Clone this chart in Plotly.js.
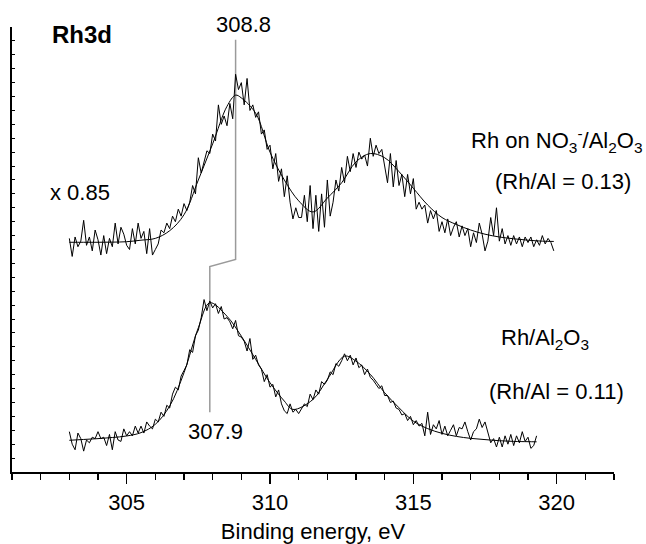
<!DOCTYPE html>
<html>
<head>
<meta charset="utf-8">
<script src="https://cdn.plot.ly/plotly-3.0.1.min.js"></script>
<style>
  html, body { margin: 0; padding: 0; background: #fff; }
  #chart { width: 646px; height: 544px; }
</style>
</head>
<body>
<div id="chart"></div>
<script>
// ---------- DATA ----------
// Binding-energy grid of the measured spectra (eV)
const energyStep = 0.1;
const topStart = 303.0;      // Rh on NO3-/Al2O3 (x 0.85)
const bottomStart = 303.0;   // Rh/Al2O3

// Measured (noisy) intensities, arbitrary units, one per 0.1 eV
const topCounts = [
  16.8,15.5,16.9,16.2,16.6,18.1,16.3,16.9,15.9,17.4,
  16.7,15.6,17.0,15.7,16.8,16.2,17.9,16.4,17.6,17.1,
  16.3,16.0,17.5,16.4,17.9,16.8,17.3,15.7,17.5,15.6,
  16.0,16.4,17.4,17.2,17.9,17.5,18.4,18.0,18.9,18.4,
  19.3,18.8,19.4,20.6,20.0,22.6,21.5,22.4,23.1,22.9,
  24.3,23.8,26.4,25.0,25.6,24.9,26.5,25.4,28.6,27.5,
  28.0,26.4,28.3,26.0,26.4,25.5,25.9,24.3,24.6,23.2,
  23.5,21.8,22.9,20.9,21.8,19.8,21.3,19.4,18.2,19.0,
  18.3,18.3,19.9,18.0,20.6,17.5,19.9,17.3,20.0,17.6,
  21.0,18.4,19.4,21.0,20.2,21.9,20.8,22.7,21.6,22.9,
  21.9,23.0,22.5,22.8,22.0,24.0,22.7,23.5,22.9,23.2,
  22.1,20.8,22.9,20.5,22.4,20.6,21.4,19.8,21.4,20.0,
  21.1,18.9,19.4,18.9,19.2,17.9,18.8,18.2,18.8,17.3,
  18.0,17.2,18.2,17.0,17.6,18.0,16.9,17.7,17.0,17.5,
  16.2,17.2,16.5,17.9,17.1,15.9,16.6,18.3,17.0,19.0,
  16.6,17.5,16.4,17.0,16.3,17.0,16.4,16.9,16.2,16.9,
  16.5,16.9,16.2,16.7,16.3,17.0,16.4,16.8,16.5,15.9
];
const bottomCounts = [
  2.9,2.0,1.6,2.8,2.4,1.5,2.3,2.1,2.5,2.4,
  2.9,2.4,2.5,1.9,2.7,1.6,2.9,2.3,2.2,3.1,
  2.6,2.9,2.6,3.3,2.8,3.3,2.8,3.6,3.3,3.1,
  3.8,3.6,4.3,4.0,4.8,4.6,5.6,6.1,5.9,6.9,
  7.3,7.7,8.8,8.6,9.8,10.2,11.1,12.4,11.6,12.3,
  11.8,12.1,11.4,11.9,11.0,11.1,10.8,10.3,10.9,9.8,
  9.7,9.4,8.7,9.6,8.1,8.4,7.7,7.4,6.5,7.0,
  6.1,6.3,5.4,5.9,4.9,4.4,4.2,4.9,4.3,4.5,
  4.2,4.6,4.9,4.7,5.6,5.2,5.9,5.6,6.5,6.3,
  6.6,7.2,7.0,7.8,7.6,8.0,8.5,8.0,8.4,7.7,
  8.2,7.5,7.7,7.0,7.4,6.8,6.6,6.3,6.0,6.2,
  5.5,5.5,5.0,5.1,4.6,4.5,4.1,4.2,3.7,4.0,
  3.4,3.7,3.3,3.5,2.6,4.3,2.7,3.4,3.1,3.7,
  2.7,3.3,2.6,3.0,3.4,2.6,3.2,3.1,3.6,2.9,
  2.3,2.9,3.1,3.8,3.2,3.6,2.9,2.1,2.4,1.8,
  2.5,1.8,2.6,2.0,2.7,1.9,2.6,2.1,2.9,2.2,
  2.5,1.7,1.9,2.6
];

// Fitted envelopes
const topFitE = [303,303.5,304,304.5,305,305.5,306,306.5,307,307.5,308,308.5,308.8,309,309.5,310,310.5,311,311.5,312,312.5,313,313.5,314,314.5,315,315.5,316,316.5,317,317.5,318,318.5,319,319.5,319.9];
const topFit  = [16.52,16.52,16.52,16.53,16.56,16.67,16.8,17.35,18.5,21.0,23.6,26.3,27.1,26.9,25.8,23.0,21.0,19.5,18.7,19.7,20.8,22.3,22.9,22.6,21.6,20.4,19.2,18.3,17.8,17.4,17.1,16.9,16.77,16.67,16.6,16.58];
const bottomFitE = [303,303.5,304,304.5,305,305.5,306,306.5,307,307.5,307.9,308.5,309,309.5,310,310.5,310.8,311.5,312,312.6,313,313.5,314,314.5,315,315.5,316,316.5,317,317.5,318,318.5,319,319.3];
const bottomFit  = [2.28,2.34,2.4,2.48,2.59,2.83,3.43,4.74,7.14,10.37,12.17,11.2,9.77,8.1,6.42,5.1,4.5,5.22,6.66,8.33,7.97,7.02,5.7,4.62,3.66,3.12,2.78,2.56,2.42,2.33,2.25,2.2,2.18,2.17];

// Peak-position marker (Rh3d5/2 maxima, eV) and its drawn levels
const peakTop = 308.8;
const peakBottom = 307.9;
const markerE = [peakTop, peakTop, peakBottom, peakBottom];
const markerY = [31.08, 15.28, 14.77, 4.29];

// Tick labels
const xTicks = [305, 310, 315, 320];
const xTickText = ["305", "310", "315", "320"];

// ---------- BUILD ----------
const grid = (start, n) => Array.from({length: n}, (_, i) => +(start + i * energyStep).toFixed(1));
const topE = grid(topStart, topCounts.length);
const bottomE = grid(bottomStart, bottomCounts.length);

const FONT = "Arial, 'Liberation Sans', sans-serif";
const FS = 22;
const blackThin = {color: "#000", width: 1};

const traces = [
  {x: markerE, y: markerY, mode: "lines", line: {color: "#9a9a9a", width: 1.5}, hoverinfo: "skip"},
  {x: topE, y: topCounts, mode: "lines", line: blackThin, hoverinfo: "skip"},
  {x: topFitE, y: topFit, mode: "lines", line: {color: "#000", width: 1, shape: "spline", smoothing: 1}, hoverinfo: "skip"},
  {x: bottomE, y: bottomCounts, mode: "lines", line: blackThin, hoverinfo: "skip"},
  {x: bottomFitE, y: bottomFit, mode: "lines", line: {color: "#000", width: 1, shape: "spline", smoothing: 1}, hoverinfo: "skip"}
];

// annotations placed in paper coordinates (plot area 0..1)
const ann = (text, x, y, opts) => Object.assign({
  text, x, y, xref: "paper", yref: "paper", showarrow: false,
  yanchor: "middle",
  font: {family: FONT, size: FS, color: "#000"}
}, opts || {});

const layout = {
  width: 646, height: 544,
  margin: {l: 12, r: 32, t: 27, b: 72, pad: 0},
  paper_bgcolor: "#fff", plot_bgcolor: "#fff",
  showlegend: false,
  hovermode: false,
  font: {family: FONT, size: FS, color: "#000"},
  xaxis: {
    range: [301, 322],
    tickvals: xTicks, ticktext: xTickText,
    ticks: "outside", ticklen: 10, tickwidth: 1.5, tickcolor: "#000",
    minor: {dtick: 1, tick0: 301, ticks: "outside", ticklen: 6, tickwidth: 1.5, tickcolor: "#000", showgrid: false},
    showline: true, linewidth: 2, linecolor: "#000",
    showgrid: false, zeroline: false,
    tickfont: {family: FONT, size: FS, color: "#000"},
    title: {text: "Binding energy, eV", font: {family: FONT, size: FS, color: "#000"}, standoff: 12}
  },
  yaxis: {
    range: [0, 32],
    dtick: 1, tick0: 0,
    ticks: "inside", ticklen: 3, tickwidth: 1, tickcolor: "#000",
    showticklabels: false,
    showline: true, linewidth: 2, linecolor: "#000",
    showgrid: false, zeroline: false
  },
  annotations: [
    ann("<b>Rh3d</b>", 0.063, 0.983, {xanchor: "left", font: {family: FONT, size: 24, color: "#000"}}),
    ann("308.8", 0.385, 1.005, {xanchor: "center"}),
    ann("x 0.85", 0.060, 0.628, {xanchor: "left"}),
    ann("Rh on NO<sub>3</sub><sup>-</sup>/Al<sub>2</sub>O<sub>3</sub>", 1.05, 0.745, {xanchor: "right"}),
    ann("(Rh/Al = 0.13)", 0.916, 0.653, {xanchor: "center"}),
    ann("Rh/Al<sub>2</sub>O<sub>3</sub>", 0.885, 0.298, {xanchor: "center"}),
    ann("(Rh/Al = 0.11)", 0.905, 0.181, {xanchor: "center"}),
    ann("307.9", 0.338, 0.091, {xanchor: "center"})
  ]
};

Plotly.newPlot("chart", traces, layout, {staticPlot: true, displayModeBar: false});
</script>
</body>
</html>
